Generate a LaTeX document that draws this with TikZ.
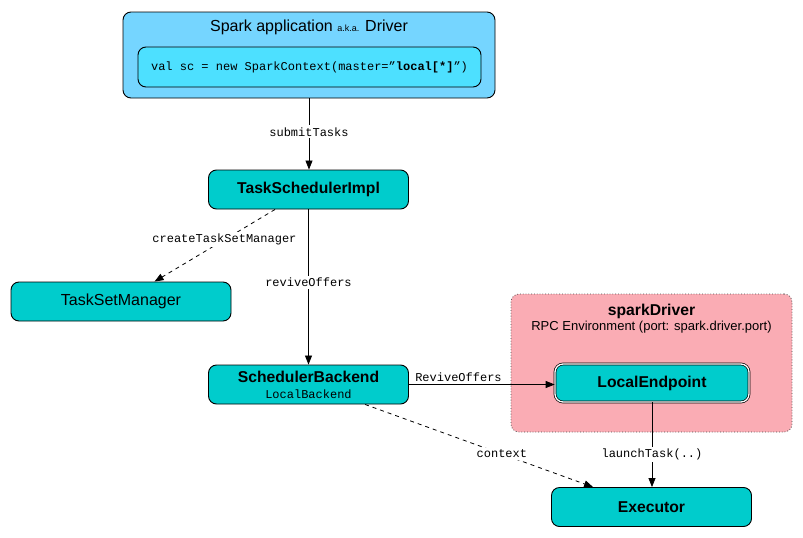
\documentclass[tikz,border=0pt]{standalone}
\usepackage{fontspec}
\setmainfont{Liberation Sans}
\setmonofont{Liberation Mono}
\usetikzlibrary{arrows.meta}
\definecolor{tealbox}{RGB}{0,204,204}
\definecolor{outerblue}{RGB}{117,213,255}
\definecolor{innerblue}{RGB}{77,224,255}
\definecolor{pinkbg}{RGB}{250,172,180}
\begin{document}
\begin{tikzpicture}[x=1pt,y=-1pt,
  box/.style={draw=black, fill=tealbox, rounded corners=8pt, line width=0.9pt,
    minimum width=200pt, minimum height=39pt, inner sep=0pt, align=center,
    font=\fontsize{16}{18}\selectfont},
  bbox/.style={box, font=\bfseries\fontsize{15.7}{18}\selectfont},
  lbl/.style={font=\ttfamily\fontsize{12}{14}\selectfont, fill=white, inner sep=2pt},
  arr/.style={-{Triangle[length=9pt,width=7pt]}, line width=0.8pt},
  darr/.style={arr, dashed, dash pattern=on 4pt off 4pt}]
\useasboundingbox (0,0) rectangle (803,538);

% Driver
\node[draw=black, fill=outerblue, rounded corners=8pt, line width=0.9pt,
  minimum width=372pt, minimum height=86pt, inner sep=0pt] (drv) at (309,55) {};
\node[font=\fontsize{16}{18}\selectfont] (drvtitle) at (309,27)
  {Spark application {\fontsize{9}{10}\selectfont a.k.a.} Driver};
\node[draw=black, fill=innerblue, rounded corners=8pt, line width=0.9pt,
  minimum width=343pt, minimum height=40pt, inner sep=0pt,
  font=\ttfamily\fontsize{12}{14}\selectfont] (code) at (309.5,67)
  {val sc = new SparkContext(master=”\textbf{local[*]}”)};

% sparkDriver RPC env
\node[draw=black!70, dotted, fill=pinkbg, rounded corners=8pt, line width=0.8pt,
  minimum width=281pt, minimum height=138pt, inner sep=0pt] (rpc) at (651.5,363) {};
\node[font=\bfseries\fontsize{15.7}{18}\selectfont] (rpctitle) at (651.5,311) {sparkDriver};
\node[font=\fontsize{13}{15}\selectfont] (rpcsub) at (651.5,327)
  {RPC Environment (port: spark.driver.port)};

% boxes
\node[bbox] (tsi) at (308.5,189.5) {TaskSchedulerImpl};
\node[box, minimum width=220pt] (tsm) at (121,301.5) {TaskSetManager};
\node[box] (sb) at (308.5,384.5)
  {{\bfseries\fontsize{15.7}{18}\selectfont SchedulerBackend}\\[-2pt]{\ttfamily\fontsize{12}{13}\selectfont LocalBackend}};
\node[bbox, minimum width=194pt, minimum height=38pt, double=white, double distance=1.3pt,
  line width=0.7pt] (le) at (652,383) {LocalEndpoint};
\node[bbox] (ex) at (651.5,507) {Executor};

% connectors
\draw[arr] (drv.south) -- node[lbl, pos=0.47] {submitTasks} (drv.south |- tsi.north);
\draw[darr] ([xshift=67pt]tsi.south west) -- node[lbl, pos=0.42] {createTaskSetManager}
  ([xshift=144pt]tsm.north west);
\draw[arr] (tsi.south) -- node[lbl, pos=0.47] {reviveOffers} (sb.north);
\draw[arr] (sb.east) -- node[pos=0.34, above, inner sep=2pt,
  font=\ttfamily\fontsize{12}{14}\selectfont] {ReviveOffers} (sb.east -| le.west);
\draw[arr] (le.south) -- node[lbl, pos=0.62] {launchTask(..)} (le.south |- ex.north);
\draw[darr] ([xshift=157pt]sb.south west) -- node[lbl, pos=0.6] {context}
  ([xshift=42pt]ex.north west);
\end{tikzpicture}
\end{document}
